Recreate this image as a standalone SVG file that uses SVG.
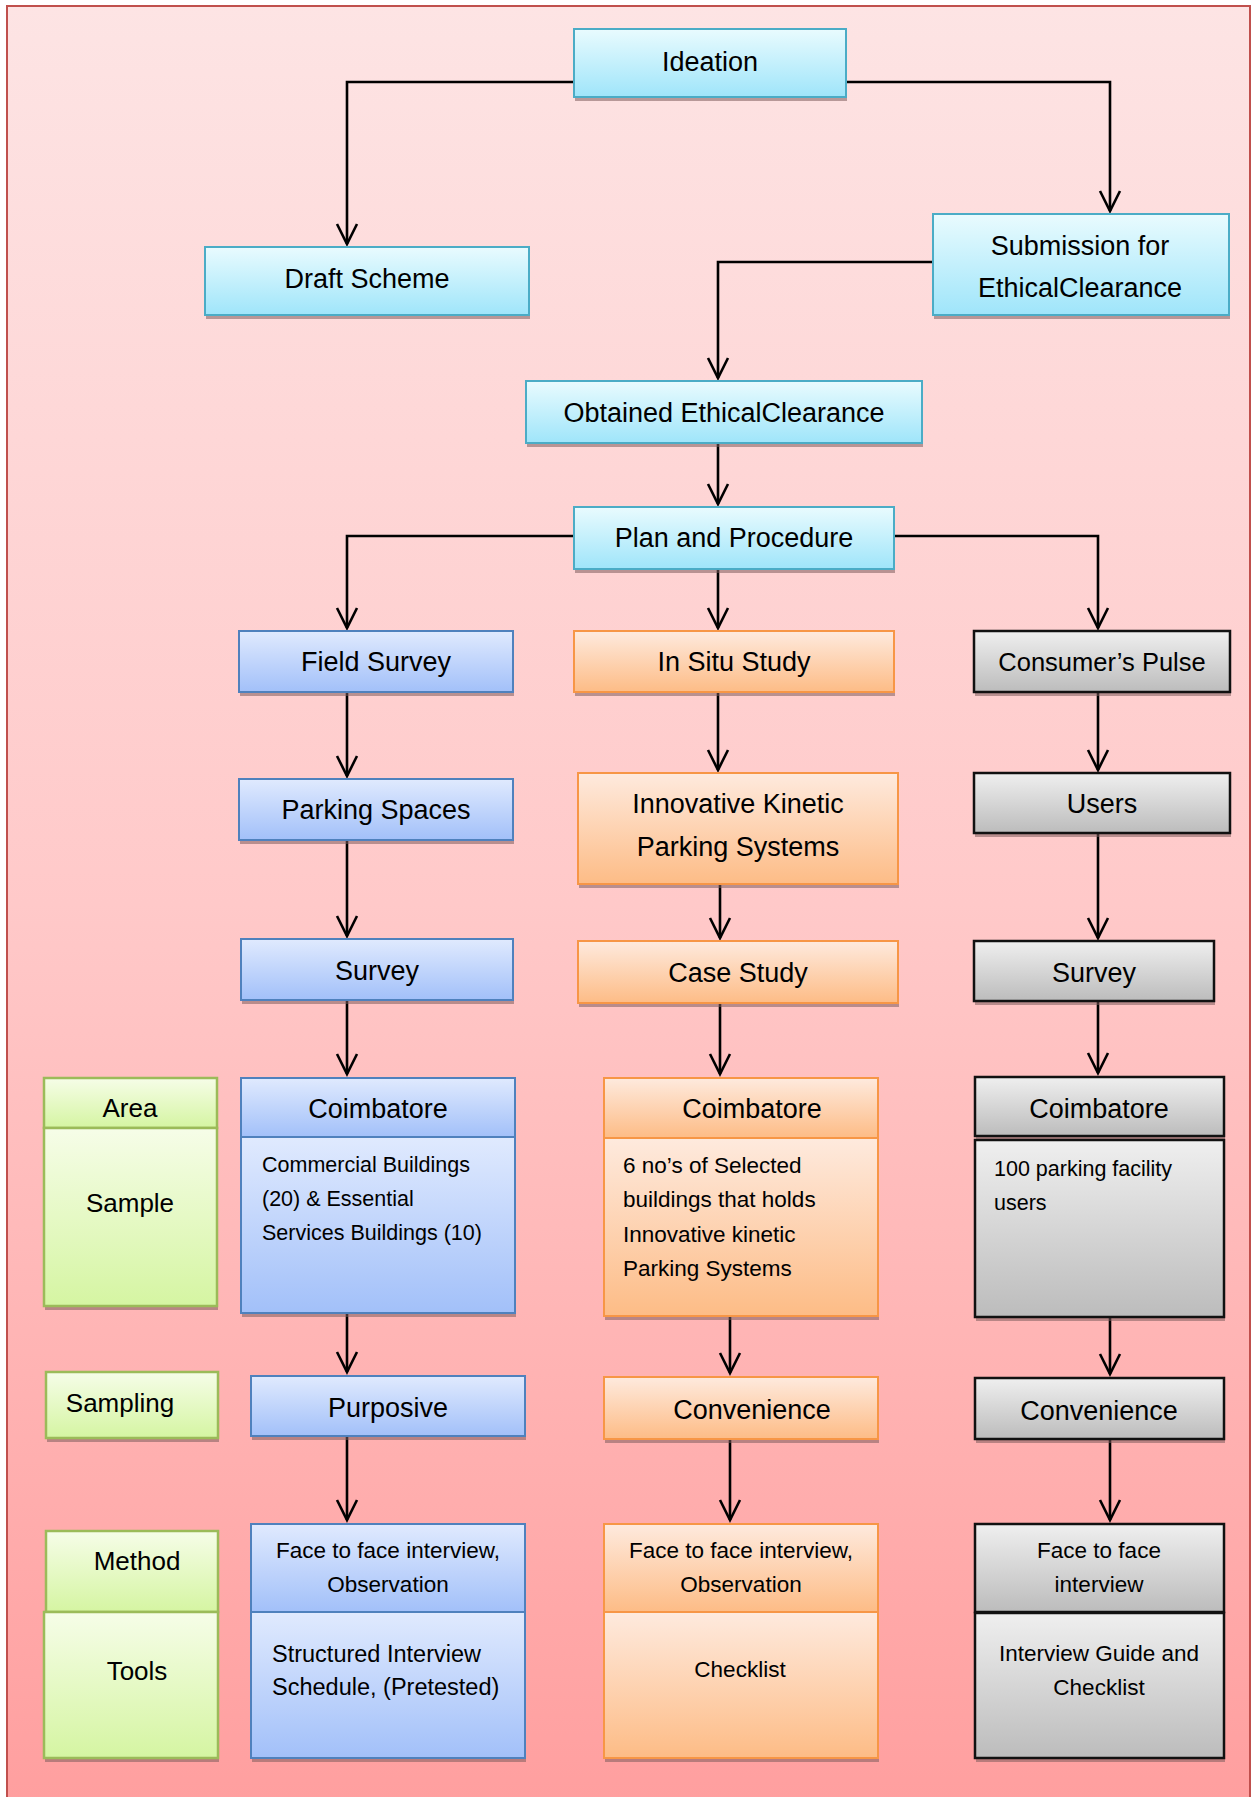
<svg xmlns="http://www.w3.org/2000/svg" width="1253" height="1797" viewBox="0 0 1253 1797">
<defs>
<linearGradient id="bg" x1="0" y1="0" x2="0" y2="1">
<stop offset="0" stop-color="#fde4e4"/>
<stop offset="0.5" stop-color="#ffc9c9"/>
<stop offset="1" stop-color="#ff9f9f"/>
</linearGradient>
<linearGradient id="gCyan" x1="0" y1="0" x2="0" y2="1">
<stop offset="0" stop-color="#e9fbfe"/>
<stop offset="1" stop-color="#9fe5fa"/>
</linearGradient>
<linearGradient id="gBlue" x1="0" y1="0" x2="0" y2="1">
<stop offset="0" stop-color="#e0eafe"/>
<stop offset="1" stop-color="#a2c0f9"/>
</linearGradient>
<linearGradient id="gOrange" x1="0" y1="0" x2="0" y2="1">
<stop offset="0" stop-color="#feeade"/>
<stop offset="1" stop-color="#fdbc86"/>
</linearGradient>
<linearGradient id="gGrey" x1="0" y1="0" x2="0" y2="1">
<stop offset="0" stop-color="#efefef"/>
<stop offset="1" stop-color="#bcbcbc"/>
</linearGradient>
<linearGradient id="gGreen" x1="0" y1="0" x2="0" y2="1">
<stop offset="0" stop-color="#f6fde8"/>
<stop offset="1" stop-color="#d5f5a2"/>
</linearGradient>
<marker id="arr" viewBox="-24 -13 27 26" refX="0" refY="0" markerWidth="27" markerHeight="26" markerUnits="userSpaceOnUse" orient="auto">
<path d="M-20,-10 L0,0 L-20,10" fill="none" stroke="#000" stroke-width="2.6" stroke-linejoin="miter"/>
</marker>
<style>
text{font-family:"Liberation Sans",Arial,sans-serif;fill:#000}
.lbl{font-size:27px;text-anchor:middle}
.side{font-size:26px;text-anchor:middle}
.det{font-size:21.5px}
.det2{font-size:22.5px}
.detc{font-size:22.5px;text-anchor:middle}
.sh{fill:#7d5c5c;opacity:.55}
.cyan{fill:url(#gCyan);stroke:#4bacc6;stroke-width:2}
.blue{fill:url(#gBlue);stroke:#4f81bd;stroke-width:2}
.orange{fill:url(#gOrange);stroke:#f79646;stroke-width:2}
.grey{fill:url(#gGrey);stroke:#111;stroke-width:2.5}
.green{fill:url(#gGreen);stroke:#9bbb59;stroke-width:2.5}
.con{fill:none;stroke:#000;stroke-width:2.6;marker-end:url(#arr)}
</style>
</defs>
<rect x="0" y="0" width="1253" height="1797" fill="#fff"/>
<rect x="7" y="6" width="1243" height="1795" fill="url(#bg)" stroke="#c0504d" stroke-width="2"/>

<g id="connectors">
<path class="con" d="M574,82 H347 V244"/>
<path class="con" d="M846,82 H1110 V211"/>
<path class="con" d="M933,262 H718 V378"/>
<path class="con" d="M718,443 V504"/>
<path class="con" d="M574,536 H347 V628"/>
<path class="con" d="M718,569 V628"/>
<path class="con" d="M894,536 H1098 V628"/>
<path class="con" d="M347,692 V776"/>
<path class="con" d="M718,692 V770"/>
<path class="con" d="M1098,692 V770"/>
<path class="con" d="M347,841 V936"/>
<path class="con" d="M720,885 V938"/>
<path class="con" d="M1098,834 V938"/>
<path class="con" d="M347,1001 V1074"/>
<path class="con" d="M720,1004 V1074"/>
<path class="con" d="M1098,1002 V1073"/>
<path class="con" d="M347,1314 V1372"/>
<path class="con" d="M730,1317 V1373"/>
<path class="con" d="M1110,1318 V1374"/>
<path class="con" d="M347,1437 V1520"/>
<path class="con" d="M730,1440 V1520"/>
<path class="con" d="M1110,1440 V1520"/>
</g>

<g id="ideation"><rect class="sh" x="575" y="33" width="272" height="68"/><rect class="cyan" x="574" y="29" width="272" height="68"/><text class="lbl" x="710" y="71">Ideation</text></g>
<g id="draft-scheme"><rect class="sh" x="206" y="251" width="324" height="68"/><rect class="cyan" x="205" y="247" width="324" height="68"/><text class="lbl" x="367" y="288">Draft Scheme</text></g>
<g id="submission"><rect class="sh" x="934" y="218" width="296" height="101"/><rect class="cyan" x="933" y="214" width="296" height="101"/><text class="lbl" x="1080" y="255">Submission for</text><text class="lbl" x="1080" y="297">EthicalClearance</text></g>
<g id="obtained"><rect class="sh" x="527" y="385" width="396" height="62"/><rect class="cyan" x="526" y="381" width="396" height="62"/><text class="lbl" x="724" y="422">Obtained EthicalClearance</text></g>
<g id="plan"><rect class="sh" x="575" y="511" width="320" height="62"/><rect class="cyan" x="574" y="507" width="320" height="62"/><text class="lbl" x="734" y="547">Plan and Procedure</text></g>

<g id="field-survey"><rect class="sh" x="240" y="635" width="274" height="61"/><rect class="blue" x="239" y="631" width="274" height="61"/><text class="lbl" x="376" y="671">Field Survey</text></g>
<g id="parking-spaces"><rect class="sh" x="240" y="783" width="274" height="61"/><rect class="blue" x="239" y="779" width="274" height="61"/><text class="lbl" x="376" y="819">Parking Spaces</text></g>
<g id="survey-blue"><rect class="sh" x="242" y="943" width="272" height="61"/><rect class="blue" x="241" y="939" width="272" height="61"/><text class="lbl" x="377" y="980">Survey</text></g>
<g id="coimbatore-blue"><rect class="sh" x="242" y="1082" width="274" height="235"/><rect class="blue" x="241" y="1078" width="274" height="59"/><rect class="blue" x="241" y="1137" width="274" height="176"/><text class="lbl" x="378" y="1118">Coimbatore</text><text class="det" x="262" y="1172">Commercial Buildings</text><text class="det" x="262" y="1206">(20) &amp; Essential</text><text class="det" x="262" y="1240">Services Buildings (10)</text></g>
<g id="purposive"><rect class="sh" x="252" y="1380" width="274" height="60"/><rect class="blue" x="251" y="1376" width="274" height="60"/><text class="lbl" x="388" y="1417">Purposive</text></g>
<g id="method-blue"><rect class="sh" x="252" y="1528" width="274" height="234"/><rect class="blue" x="251" y="1524" width="274" height="88"/><rect class="blue" x="251" y="1612" width="274" height="146"/><text class="detc" x="388" y="1558">Face to face interview,</text><text class="detc" x="388" y="1592">Observation</text><text class="det2" x="272" y="1662" style="font-size:23.5px">Structured Interview</text><text class="det2" x="272" y="1695" style="font-size:23.5px">Schedule, (Pretested)</text></g>

<g id="in-situ"><rect class="sh" x="575" y="635" width="320" height="61"/><rect class="orange" x="574" y="631" width="320" height="61"/><text class="lbl" x="734" y="671">In Situ Study</text></g>
<g id="innovative"><rect class="sh" x="579" y="777" width="320" height="111"/><rect class="orange" x="578" y="773" width="320" height="111"/><text class="lbl" x="738" y="813">Innovative Kinetic</text><text class="lbl" x="738" y="856">Parking Systems</text></g>
<g id="case-study"><rect class="sh" x="579" y="945" width="320" height="62"/><rect class="orange" x="578" y="941" width="320" height="62"/><text class="lbl" x="738" y="982">Case Study</text></g>
<g id="coimbatore-orange"><rect class="sh" x="605" y="1082" width="274" height="238"/><rect class="orange" x="604" y="1078" width="274" height="60"/><rect class="orange" x="604" y="1138" width="274" height="178"/><text class="lbl" x="752" y="1118">Coimbatore</text><text class="det2" x="623" y="1173">6 no’s of Selected</text><text class="det2" x="623" y="1207">buildings that holds</text><text class="det2" x="623" y="1242">Innovative kinetic</text><text class="det2" x="623" y="1276">Parking Systems</text></g>
<g id="convenience-orange"><rect class="sh" x="605" y="1381" width="274" height="62"/><rect class="orange" x="604" y="1377" width="274" height="62"/><text class="lbl" x="752" y="1419">Convenience</text></g>
<g id="method-orange"><rect class="sh" x="605" y="1528" width="274" height="234"/><rect class="orange" x="604" y="1524" width="274" height="88"/><rect class="orange" x="604" y="1612" width="274" height="146"/><text class="detc" x="741" y="1558">Face to face interview,</text><text class="detc" x="741" y="1592">Observation</text><text class="detc" x="740" y="1677">Checklist</text></g>

<g id="consumers-pulse"><rect class="sh" x="975" y="635" width="256" height="61"/><rect class="grey" x="974" y="631" width="256" height="61"/><text class="lbl" x="1102" y="671" style="font-size:25.5px">Consumer’s Pulse</text></g>
<g id="users"><rect class="sh" x="975" y="777" width="256" height="60"/><rect class="grey" x="974" y="773" width="256" height="60"/><text class="lbl" x="1102" y="813">Users</text></g>
<g id="survey-grey"><rect class="sh" x="975" y="945" width="240" height="60"/><rect class="grey" x="974" y="941" width="240" height="60"/><text class="lbl" x="1094" y="982">Survey</text></g>
<g id="coimbatore-grey"><rect class="sh" x="976" y="1081" width="249" height="59"/><rect class="grey" x="975" y="1077" width="249" height="59"/><rect class="sh" x="976" y="1144" width="249" height="177"/><rect class="grey" x="975" y="1140" width="249" height="177"/><text class="lbl" x="1099" y="1118">Coimbatore</text><text class="det" x="994" y="1176">100 parking facility</text><text class="det" x="994" y="1210">users</text></g>
<g id="convenience-grey"><rect class="sh" x="976" y="1382" width="249" height="61"/><rect class="grey" x="975" y="1378" width="249" height="61"/><text class="lbl" x="1099" y="1420">Convenience</text></g>
<g id="method-grey"><rect class="sh" x="976" y="1528" width="249" height="234"/><rect class="grey" x="975" y="1524" width="249" height="88"/><rect class="grey" x="975" y="1613" width="249" height="145"/><text class="detc" x="1099" y="1558">Face to face</text><text class="detc" x="1099" y="1592">interview</text><text class="detc" x="1099" y="1661">Interview Guide and</text><text class="detc" x="1099" y="1695">Checklist</text></g>

<g id="area-sample"><rect class="sh" x="45" y="1082" width="173" height="228"/><rect class="green" x="44" y="1078" width="173" height="50"/><rect class="green" x="44" y="1128" width="173" height="178"/><text class="side" x="130" y="1117">Area</text><text class="side" x="130" y="1212">Sample</text></g>
<g id="sampling"><rect class="sh" x="47" y="1376" width="172" height="66"/><rect class="green" x="46" y="1372" width="172" height="66"/><text class="side" x="120" y="1412">Sampling</text></g>
<g id="method-tools"><rect class="sh" x="45" y="1535" width="174" height="227"/><rect class="green" x="46" y="1531" width="172" height="81"/><rect class="green" x="44" y="1612" width="174" height="146"/><text class="side" x="137" y="1570">Method</text><text class="side" x="137" y="1680">Tools</text></g>
</svg>
